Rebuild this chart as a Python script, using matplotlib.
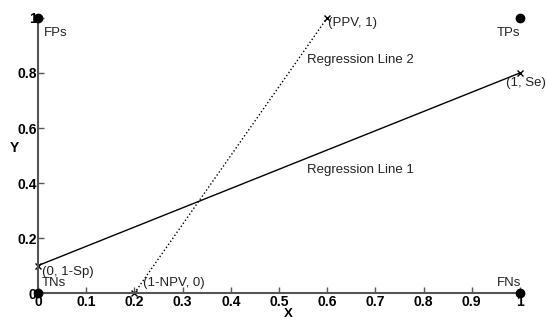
import matplotlib
matplotlib.use("Agg")
import matplotlib.pyplot as plt

plt.rcParams['font.family'] = ['Liberation Sans', 'DejaVu Sans']

# regression lines (endpoints)
line1_x = [0, 1]
line1_y = [0.1, 0.8]
line2_x = [0.2, 0.6]
line2_y = [0, 1]

# corner points
corner_x = [0, 1, 0, 1]
corner_y = [1, 1, 0, 0]

# annotations: (text, x, y)
labels = [
    ("FPs", 0.012, 0.945),
    ("TPs", 0.952, 0.945),
    ("TNs", 0.008, 0.035),
    ("FNs", 0.952, 0.037),
    ("(PPV, 1)", 0.602, 0.982),
    ("Regression Line 2", 0.558, 0.847),
    ("(1, Se)", 0.972, 0.765),
    ("Regression Line 1", 0.558, 0.448),
    ("(0, 1-Sp)", 0.008, 0.077),
    ("(1-NPV, 0)", 0.218, 0.035),
]

xticks = [0, 0.1, 0.2, 0.3, 0.4, 0.5, 0.6, 0.7, 0.8, 0.9, 1]
xtick_labels = ["0", "0.1", "0.2", "0.3", "0.4", "0.5", "0.6", "0.7", "0.8", "0.9", "1"]
yticks = [0, 0.2, 0.4, 0.6, 0.8, 1]
ytick_labels = ["0", "0.2", "0.4", "0.6", "0.8", "1"]

fig = plt.figure(figsize=(5.47, 3.2), dpi=100)
ax = fig.add_axes([0.0695, 0.084, 0.881, 0.86])

ax.plot(line1_x, line1_y, '-', color='black', lw=1.0, marker='x', ms=4, mew=1.0, clip_on=False)
ax.plot(line2_x, line2_y, ':', color='black', lw=1.0, marker='x', ms=4, mew=1.0, clip_on=False)
ax.plot(corner_x, corner_y, 'o', color='black', ms=6, clip_on=False, zorder=5)

for txt, x, y in labels:
    ax.text(x, y, txt, fontsize=9.5, ha='left', va='center', color='#222222')

ax.set_xlim(0, 1)
ax.set_ylim(0, 1)
ax.set_xticks(xticks)
ax.set_xticklabels(xtick_labels, fontweight='bold', fontsize=10)
ax.set_yticks(yticks)
ax.set_yticklabels(ytick_labels, fontweight='bold', fontsize=10)
ax.tick_params(direction='in', length=4, width=1, color='#555555')
ax.tick_params(axis='x', pad=1.5)
ax.tick_params(axis='y', pad=1)

ax.spines['top'].set_visible(False)
ax.spines['right'].set_visible(False)
for s in ['left', 'bottom']:
    ax.spines[s].set_color('#555555')
    ax.spines[s].set_linewidth(1.5)

ax.set_xlabel("X", fontweight='bold', fontsize=9.5, va='center')
ax.set_ylabel("Y", fontweight='bold', fontsize=10, rotation=0, va='center', ha='center')
ax.xaxis.set_label_coords(0.52, -0.075)
ax.yaxis.set_label_coords(-0.05, 0.527)

fig.savefig("out.png", dpi=100)
